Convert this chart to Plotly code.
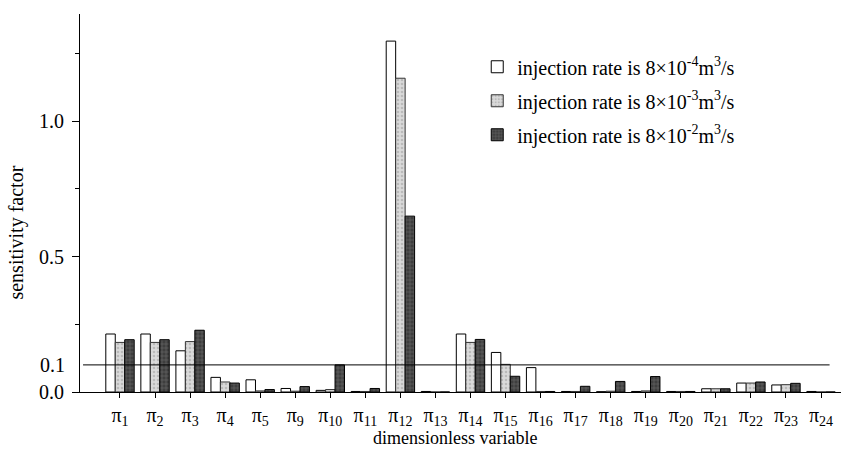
import plotly.graph_objects as go

categories = ["π<sub>1</sub>", "π<sub>2</sub>", "π<sub>3</sub>", "π<sub>4</sub>", "π<sub>5</sub>",
              "π<sub>9</sub>", "π<sub>10</sub>", "π<sub>11</sub>", "π<sub>12</sub>", "π<sub>13</sub>",
              "π<sub>14</sub>", "π<sub>15</sub>", "π<sub>16</sub>", "π<sub>17</sub>", "π<sub>18</sub>",
              "π<sub>19</sub>", "π<sub>20</sub>", "π<sub>21</sub>", "π<sub>22</sub>", "π<sub>23</sub>",
              "π<sub>24</sub>"]

rate_4 = [0.214, 0.214, 0.152, 0.054, 0.045, 0.013, 0.006, 0.002, 1.295, 0.002,
          0.214, 0.146, 0.090, 0.002, 0.001, 0.002, 0.002, 0.012, 0.033, 0.026, 0.002]
rate_3 = [0.183, 0.183, 0.186, 0.037, 0.004, 0.003, 0.009, 0.002, 1.158, 0.0,
          0.183, 0.102, 0.002, 0.002, 0.003, 0.004, 0.002, 0.012, 0.033, 0.027, 0.0]
rate_2 = [0.193, 0.193, 0.228, 0.033, 0.009, 0.020, 0.100, 0.013, 0.649, 0.0,
          0.194, 0.058, 0.002, 0.021, 0.039, 0.057, 0.002, 0.012, 0.037, 0.032, 0.0]

names = ["injection rate is 8×10<sup>-4</sup>m<sup>3</sup>/s",
         "injection rate is 8×10<sup>-3</sup>m<sup>3</sup>/s",
         "injection rate is 8×10<sup>-2</sup>m<sup>3</sup>/s"]

y_tick_vals = [0, 0.5, 1.0]
y_tick_text = ["0.0", "0.5", "1.0"]
y_minor_vals = [0.25, 0.75, 1.25]
threshold = 0.1

FONT = "Liberation Serif"

fig = go.Figure()
fig.add_trace(go.Bar(x=categories, y=rate_4, name=names[0], legendgroup="a",
                     marker=dict(color="white", line=dict(color="black", width=1))))
fig.add_trace(go.Bar(x=categories, y=rate_3, name=names[1], legendgroup="b",
                     marker=dict(color="#d4d4d4", line=dict(color="#333333", width=1),
                                 pattern=dict(shape=".", fgcolor="#9a9a9a", bgcolor="#dadada",
                                              size=4, solidity=0.35))))
fig.add_trace(go.Bar(x=categories, y=rate_2, name=names[2], legendgroup="c",
                     marker=dict(color="#474747", line=dict(color="black", width=1),
                                 pattern=dict(shape="+", fgcolor="#8c8c8c", bgcolor="#3e3e3e",
                                              size=4, solidity=0.3))))

fig.add_shape(type="line", xref="paper", yref="y", x0=0.004, x1=0.985, y0=threshold, y1=threshold,
              line=dict(color="black", width=1))

fig.add_annotation(xref="paper", yref="y", x=0, y=threshold, xanchor="right", xshift=-13,
                   text="0.1", showarrow=False, font=dict(family=FONT, size=20, color="black"))

fig.add_annotation(xref="paper", yref="paper", x=0.493, y=-0.122, xanchor="center", yanchor="middle",
                   text="dimensionless variable", showarrow=False,
                   font=dict(family=FONT, size=18, color="black"))
fig.add_annotation(xref="paper", yref="paper", x=-0.0835, y=0.423, xanchor="center", yanchor="middle",
                   text="sensitivity factor", showarrow=False, textangle=-90,
                   font=dict(family=FONT, size=20, color="black"))

fig.update_layout(
    width=841, height=450,
    margin=dict(l=80, r=0, t=14, b=58),
    paper_bgcolor="white", plot_bgcolor="white",
    barmode="group", bargap=0.19, bargroupgap=0,
    font=dict(family=FONT, size=20, color="black"),
    legend=dict(x=0.522, y=0.912, xanchor="left", yanchor="top",
                font=dict(family=FONT, size=20, color="black"), traceorder="grouped",
                tracegroupgap=5, bgcolor="rgba(0,0,0,0)"),
    xaxis=dict(range=[-1.141, 20.57], showline=True, linecolor="black", linewidth=1,
               ticks="outside", ticklen=5, tickcolor="black", showgrid=False, zeroline=False,
               tickfont=dict(family=FONT, size=20, color="black")),
    yaxis=dict(range=[0, 1.395], showline=True, linecolor="black", linewidth=1,
               tickvals=y_tick_vals, ticktext=y_tick_text,
               ticks="outside", ticklen=7, tickcolor="black", showgrid=False, zeroline=False,
               ticklabelstandoff=4,
               minor=dict(tickvals=y_minor_vals, ticks="outside", ticklen=4, tickcolor="black"),
               tickfont=dict(family=FONT, size=20, color="black")),
)

fig.write_html("out.html", config={"displayModeBar": False},
               post_script="document.body.style.margin='0';")
